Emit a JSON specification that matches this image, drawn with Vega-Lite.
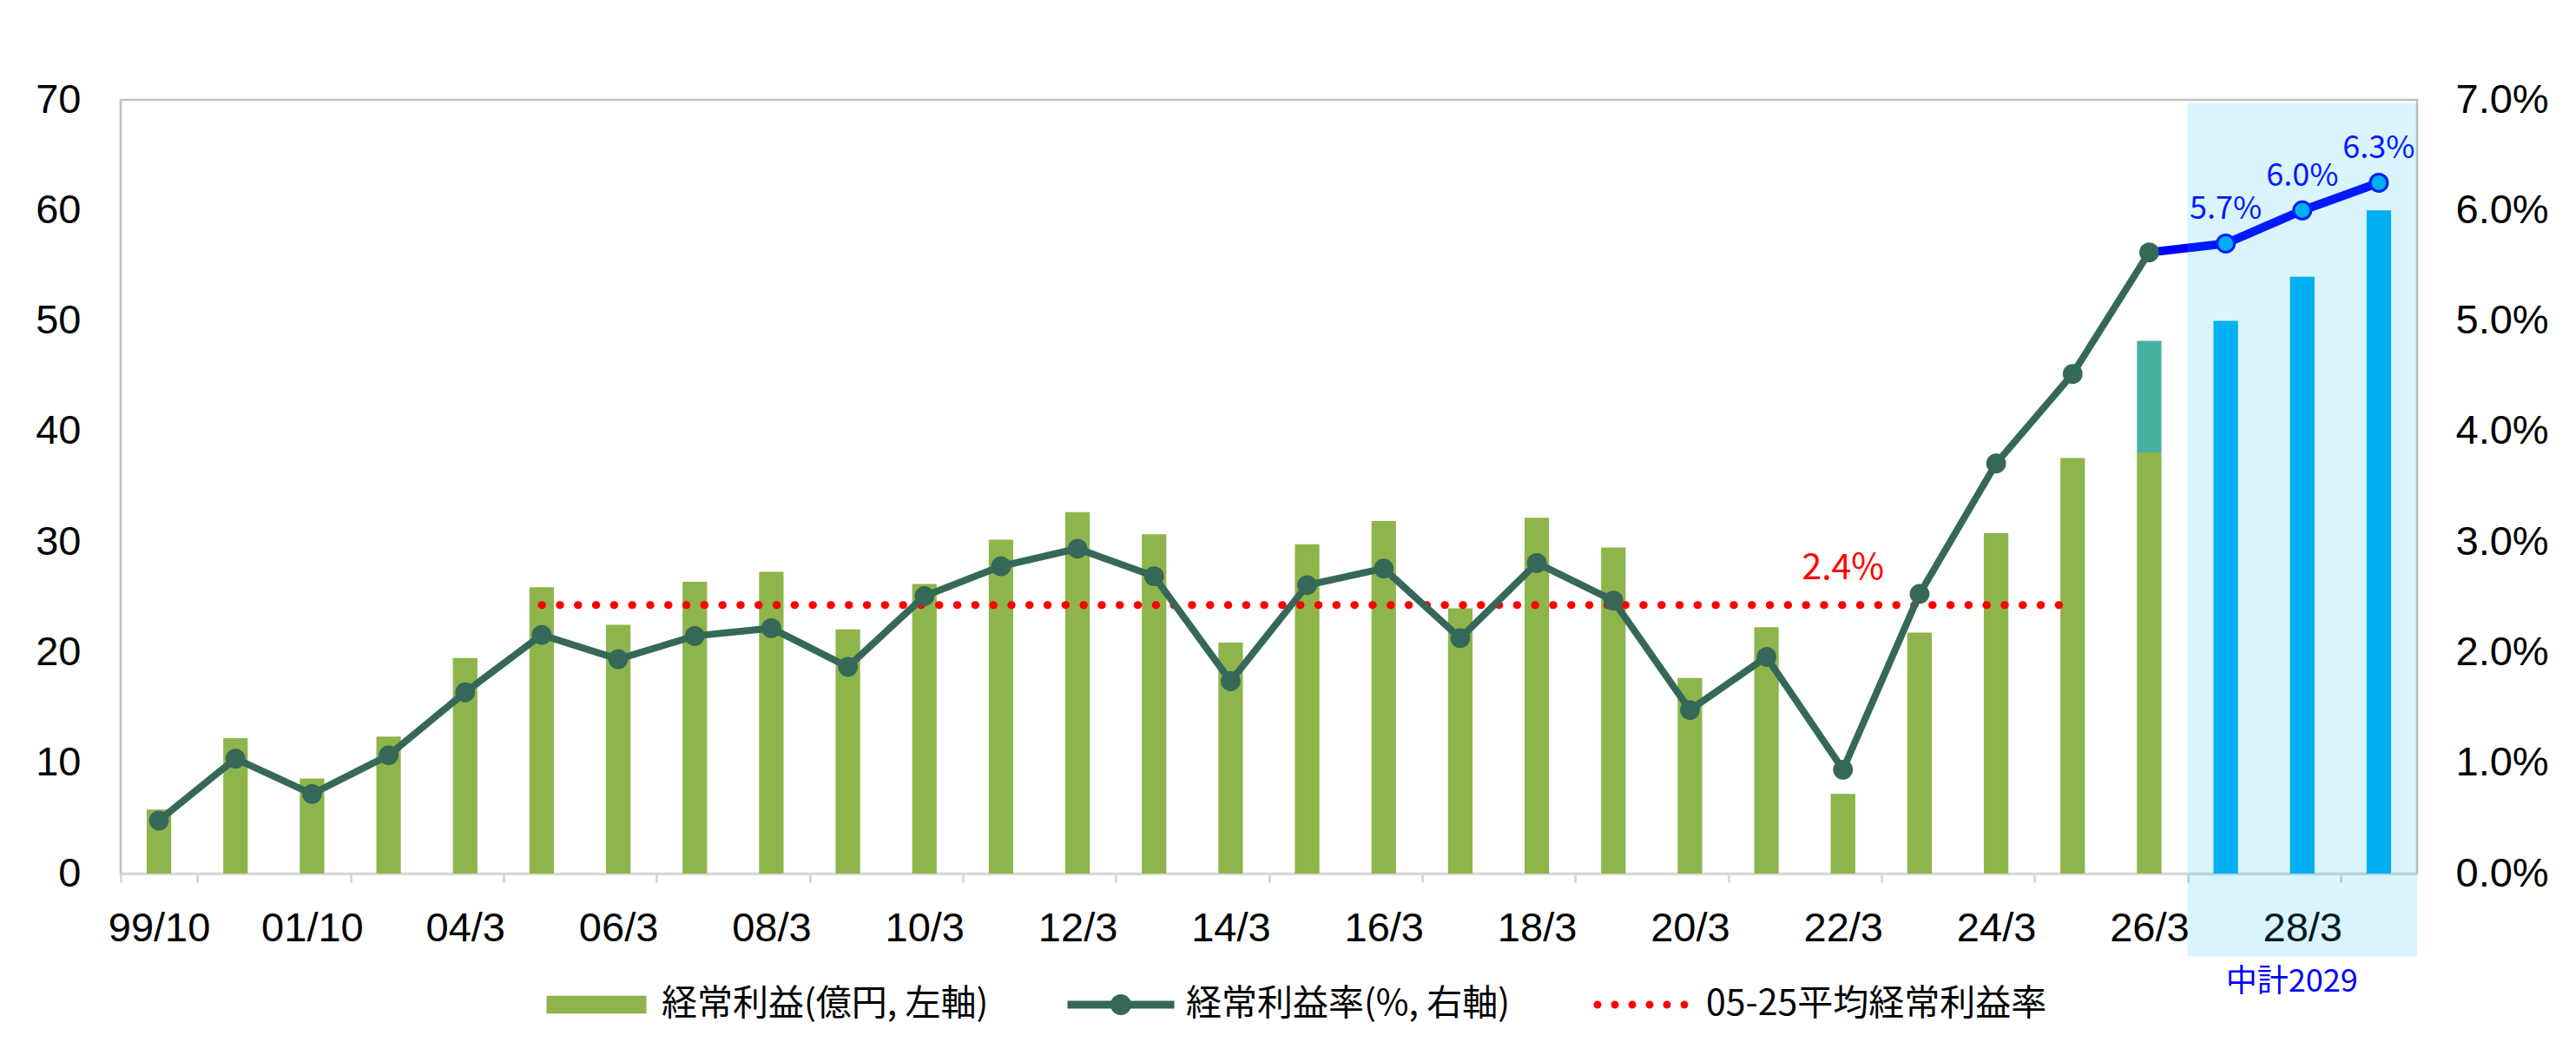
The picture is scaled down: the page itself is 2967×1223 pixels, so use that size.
{
  "$schema": "https://vega.github.io/schema/vega-lite/v6.json",
  "width": 2645,
  "height": 891,
  "autosize": "none",
  "padding": {"left": 139, "top": 115, "right": 183, "bottom": 217},
  "background": "white",
  "datasets": {
    "main": [
      {"p": "99/10", "profit": 5.8, "margin": 0.0048},
      {"p": "00/10", "profit": 12.25, "margin": 0.0104},
      {"p": "01/10", "profit": 8.6, "margin": 0.0072},
      {"p": "03/3", "profit": 12.4, "margin": 0.0107},
      {"p": "04/3", "profit": 19.5, "margin": 0.0164},
      {"p": "05/3", "profit": 25.9, "margin": 0.0216},
      {"p": "06/3", "profit": 22.5, "margin": 0.0194},
      {"p": "07/3", "profit": 26.4, "margin": 0.0215},
      {"p": "08/3", "profit": 27.3, "margin": 0.0222},
      {"p": "09/3", "profit": 22.1, "margin": 0.0187},
      {"p": "10/3", "profit": 26.2, "margin": 0.0251},
      {"p": "11/3", "profit": 30.2, "margin": 0.0278},
      {"p": "12/3", "profit": 32.7, "margin": 0.0294},
      {"p": "13/3", "profit": 30.7, "margin": 0.0269},
      {"p": "14/3", "profit": 20.9, "margin": 0.0174},
      {"p": "15/3", "profit": 29.8, "margin": 0.0261},
      {"p": "16/3", "profit": 31.9, "margin": 0.0276},
      {"p": "17/3", "profit": 24.0, "margin": 0.0213},
      {"p": "18/3", "profit": 32.2, "margin": 0.0281},
      {"p": "19/3", "profit": 29.5, "margin": 0.0247},
      {"p": "20/3", "profit": 17.7, "margin": 0.0148},
      {"p": "21/3", "profit": 22.3, "margin": 0.0196},
      {"p": "22/3", "profit": 7.2, "margin": 0.0094},
      {"p": "23/3", "profit": 21.8, "margin": 0.0253},
      {"p": "24/3", "profit": 30.8, "margin": 0.0371},
      {"p": "25/3", "profit": 37.6, "margin": 0.0452},
      {"p": "26/3", "profit": 38.1, "extra": 48.2, "margin": 0.0562, "planLine": 0.0562},
      {"p": "27/3", "plan": 50.0, "planLine": 0.057, "label": "5.7%"},
      {"p": "28/3", "plan": 54.0, "planLine": 0.060, "label": "6.0%"},
      {"p": "29/3", "plan": 60.0, "planLine": 0.0625, "label": "6.3%"}
    ],
    "avg": [
      {"p": "05/3", "avg": 0.0243},
      {"p": "25/3", "avg": 0.0243}
    ],
    "avgLabel": [
      {"p": "22/3", "y": 0.0276, "text": "2.4%"}
    ],
    "zone": [
      {"p": "27/3", "lo": -7.5, "hi": 69.7},
      {"p": "28/3", "lo": -7.5, "hi": 69.7},
      {"p": "29/3", "lo": -7.5, "hi": 69.7}
    ],
    "zoneLabel": [
      {"p": "28/3", "y": -9.8, "text": "中計2029"}
    ],
    "legend": [
      {"p": "99/10", "y": 0, "series": "経常利益(億円, 左軸)"},
      {"p": "99/10", "y": 0, "series": "経常利益率(%, 右軸)"},
      {"p": "99/10", "y": 0, "series": "05-25平均経常利益率"}
    ]
  },
  "encoding": {
    "x": {
      "field": "p",
      "type": "nominal",
      "sort": null,
      "title": null,
      "scale": {
        "domain": ["99/10","00/10","01/10","03/3","04/3","05/3","06/3","07/3","08/3","09/3","10/3","11/3","12/3","13/3","14/3","15/3","16/3","17/3","18/3","19/3","20/3","21/3","22/3","23/3","24/3","25/3","26/3","27/3","28/3","29/3"],
        "paddingInner": 0,
        "paddingOuter": 0
      },
      "axis": {
        "values": ["99/10","01/10","04/3","06/3","08/3","10/3","12/3","14/3","16/3","18/3","20/3","22/3","24/3","26/3","28/3"],
        "labelAngle": 0,
        "tickBand": "extent",
        "tickSize": 10,
        "tickWidth": 3,
        "tickColor": "#D9D9D9",
        "domainColor": "#D9D9D9",
        "domainWidth": 3,
        "labelFont": "Liberation Sans",
        "labelFontSize": 47,
        "labelColor": "#000000",
        "labelPadding": 30
      }
    }
  },
  "layer": [
    {
      "layer": [
        {
          "data": {"name": "main"},
          "transform": [{"filter": "datum.profit != null"}],
          "mark": {"type": "bar", "width": {"band": 0.32}, "color": "#8DB54B"},
          "encoding": {
            "y": {
              "field": "profit",
              "type": "quantitative",
              "scale": {"domain": [0, 70], "nice": false},
              "axis": {
                "values": [0, 10, 20, 30, 40, 50, 60, 70],
                "title": null,
                "domain": false,
                "ticks": false,
                "grid": false,
                "labelPadding": 46,
                "labelFont": "Liberation Sans",
                "labelFontSize": 47,
                "labelColor": "#000000"
              }
            }
          }
        },
        {
          "data": {"name": "main"},
          "transform": [{"filter": "datum.extra != null"}],
          "mark": {"type": "bar", "width": {"band": 0.32}, "color": "#45B1A0"},
          "encoding": {
            "y": {"field": "profit", "type": "quantitative"},
            "y2": {"field": "extra"}
          }
        },
        {
          "data": {"name": "main"},
          "transform": [{"filter": "datum.plan != null"}],
          "mark": {"type": "bar", "width": {"band": 0.32}, "color": "#00B0F0"},
          "encoding": {
            "y": {"field": "plan", "type": "quantitative"}
          }
        },
        {
          "data": {"name": "legend"},
          "mark": {"type": "point", "filled": true, "opacity": 0},
          "encoding": {
            "y": {"field": "y", "type": "quantitative"},
            "color": {
              "field": "series",
              "type": "nominal",
              "title": null,
              "scale": {
                "domain": ["経常利益(億円, 左軸)", "経常利益率(%, 右軸)", "05-25平均経常利益率"],
                "range": ["#8DB54B", "#366859", "#FF0000"]
              },
              "legend": {
                "orient": "none",
                "direction": "horizontal",
                "legendX": 488,
                "legendY": 982,
                "padding": 0,
                "symbolSize": 14400,
                "symbolStrokeWidth": 0,
                "labelFont": "Noto Sans CJK JP",
                "labelFontSize": 41,
                "labelColor": "#000000",
                "labelOffset": 15,
                "labelLimit": 1000,
                "columnPadding": 90,
                "encode": {"symbols": {"update": {"opacity": {"value": 1}}}}
              }
            },
            "shape": {
              "field": "series",
              "type": "nominal",
              "title": null,
              "scale": {
                "domain": ["経常利益(億円, 左軸)", "経常利益率(%, 右軸)", "05-25平均経常利益率"],
                "range": [
                  "M-0.958,-0.172H0.958V0.172H-0.958Z",
                  "M-1.025,-0.075H1.025V0.075H-1.025Z M0.2,0 A0.2,0.2 0 1,1 -0.2,0 A0.2,0.2 0 1,1 0.2,0Z",
                  "M-0.758,0 A0.075,0.075 0 1,1 -0.908,0 A0.075,0.075 0 1,1 -0.758,0Z M-0.425,0 A0.075,0.075 0 1,1 -0.575,0 A0.075,0.075 0 1,1 -0.425,0Z M-0.092,0 A0.075,0.075 0 1,1 -0.242,0 A0.075,0.075 0 1,1 -0.092,0Z M0.242,0 A0.075,0.075 0 1,1 0.092,0 A0.075,0.075 0 1,1 0.242,0Z M0.575,0 A0.075,0.075 0 1,1 0.425,0 A0.075,0.075 0 1,1 0.575,0Z M0.908,0 A0.075,0.075 0 1,1 0.758,0 A0.075,0.075 0 1,1 0.908,0Z"
                ]
              }
            }
          }
        }
      ]
    },
    {
      "layer": [
        {
          "data": {"name": "avg"},
          "mark": {"type": "line", "color": "#FF0000", "strokeWidth": 9, "strokeCap": "round", "strokeDash": [0.5, 20.3]},
          "encoding": {
            "y": {
              "field": "avg",
              "type": "quantitative",
              "scale": {"domain": [0, 0.07], "nice": false},
              "axis": {
                "orient": "right",
                "values": [0, 0.01, 0.02, 0.03, 0.04, 0.05, 0.06, 0.07],
                "format": ".1%",
                "title": null,
                "domain": false,
                "ticks": false,
                "grid": false,
                "labelPadding": 44,
                "labelFont": "Liberation Sans",
                "labelFontSize": 47,
                "labelColor": "#000000"
              }
            }
          }
        },
        {
          "data": {"name": "main"},
          "transform": [{"filter": "datum.planLine != null"}],
          "mark": {"type": "line", "color": "#0000FF", "strokeWidth": 10},
          "encoding": {
            "y": {"field": "planLine", "type": "quantitative"}
          }
        },
        {
          "data": {"name": "main"},
          "transform": [{"filter": "datum.margin != null"}],
          "mark": {"type": "line", "color": "#366859", "strokeWidth": 8, "point": {"filled": true, "size": 520, "color": "#366859"}},
          "encoding": {
            "y": {"field": "margin", "type": "quantitative"}
          }
        },
        {
          "data": {"name": "main"},
          "transform": [{"filter": "datum.label != null"}],
          "mark": {"type": "point", "filled": true, "size": 400, "fill": "#00B0F0", "stroke": "#0000FF", "strokeWidth": 3, "opacity": 1},
          "encoding": {
            "y": {"field": "planLine", "type": "quantitative"}
          }
        },
        {
          "data": {"name": "main"},
          "transform": [{"filter": "datum.label != null"}],
          "mark": {"type": "text", "font": "Noto Sans CJK JP", "fontSize": 36, "color": "#0000FF", "baseline": "alphabetic", "dy": -28},
          "encoding": {
            "y": {"field": "planLine", "type": "quantitative"},
            "text": {"field": "label"}
          }
        },
        {
          "data": {"name": "avgLabel"},
          "mark": {"type": "text", "font": "Noto Sans CJK JP", "fontSize": 41, "color": "#FF0000"},
          "encoding": {
            "y": {"field": "y", "type": "quantitative"},
            "text": {"field": "text"}
          }
        }
      ]
    },
    {
      "layer": [
        {
          "data": {"name": "zone"},
          "mark": {"type": "bar", "width": {"band": 1}, "color": "#00B0F0", "opacity": 0.145},
          "encoding": {
            "y": {"field": "lo", "type": "quantitative", "scale": {"domain": [0, 70], "nice": false}, "axis": null},
            "y2": {"field": "hi"}
          }
        },
        {
          "data": {"name": "zoneLabel"},
          "mark": {"type": "text", "font": "Noto Sans CJK JP", "fontSize": 36, "color": "#0000FF", "dx": -12},
          "encoding": {
            "y": {"field": "y", "type": "quantitative"},
            "text": {"field": "text"}
          }
        }
      ]
    }
  ],
  "resolve": {"scale": {"y": "independent"}},
  "config": {
    "view": {"stroke": "#BFBFBF", "strokeWidth": 2.5},
    "axis": {"grid": false}
  }
}
